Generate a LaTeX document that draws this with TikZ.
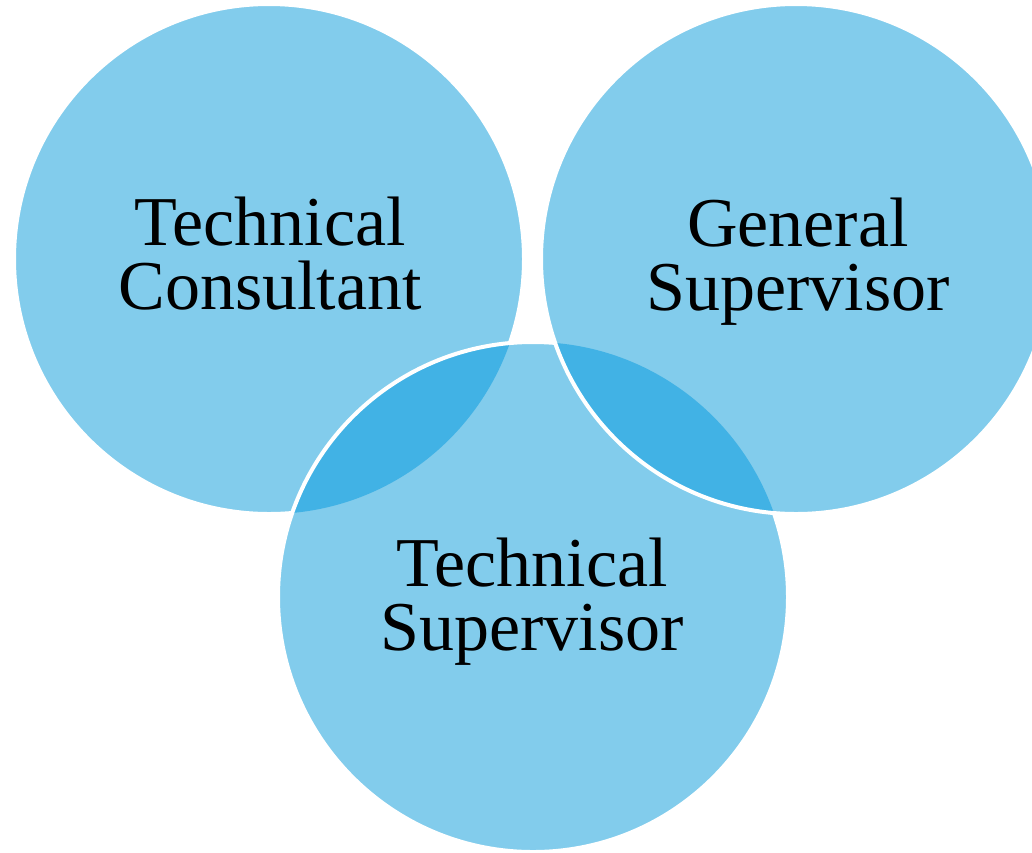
\documentclass[tikz,border=0pt]{standalone}
\usepackage{fontspec}
\setmainfont{Liberation Serif}
\definecolor{lightblue}{HTML}{82CCEC}
\definecolor{darkblue}{HTML}{41B2E5}
\begin{document}
\begin{tikzpicture}[x=1pt,y=-1pt,
  disc/.style={fill=lightblue},
  lens/.style={fill=darkblue},
  rim/.style={draw=white,line width=4pt},
  lbl/.style={font=\fontsize{70}{64}\selectfont,align=center,anchor=base,inner sep=0pt,text=black}]
\useasboundingbox (0,0) rectangle (1032,852);
\clip (0,0) rectangle (1032,852);
\def\rad{255}
\coordinate (cl) at (269,259);
\coordinate (cr) at (796,259);
\coordinate (cb) at (533,597);
% left circle
\fill[disc] (cl) circle (\rad);
\draw[rim] (cl) circle (\rad);
% bottom circle
\fill[disc] (cb) circle (\rad);
\begin{scope}
  \clip (cb) circle (\rad);
  \fill[lens] (cl) circle (\rad);
\end{scope}
\draw[rim] (cb) circle (\rad);
% right circle
\fill[disc] (cr) circle (\rad);
\begin{scope}
  \clip (cr) circle (\rad);
  \fill[lens] (cb) circle (\rad);
\end{scope}
\draw[rim] (cr) circle (\rad);
% labels (base anchor = baseline of the last line)
\node[lbl] (tc) at (270,309) {Technical\\Consultant};
\node[lbl] (gs) at (798,310) {General\\Supervisor};
\node[lbl] (ts) at (532,650) {Technical\\Supervisor};
\end{tikzpicture}
\end{document}
